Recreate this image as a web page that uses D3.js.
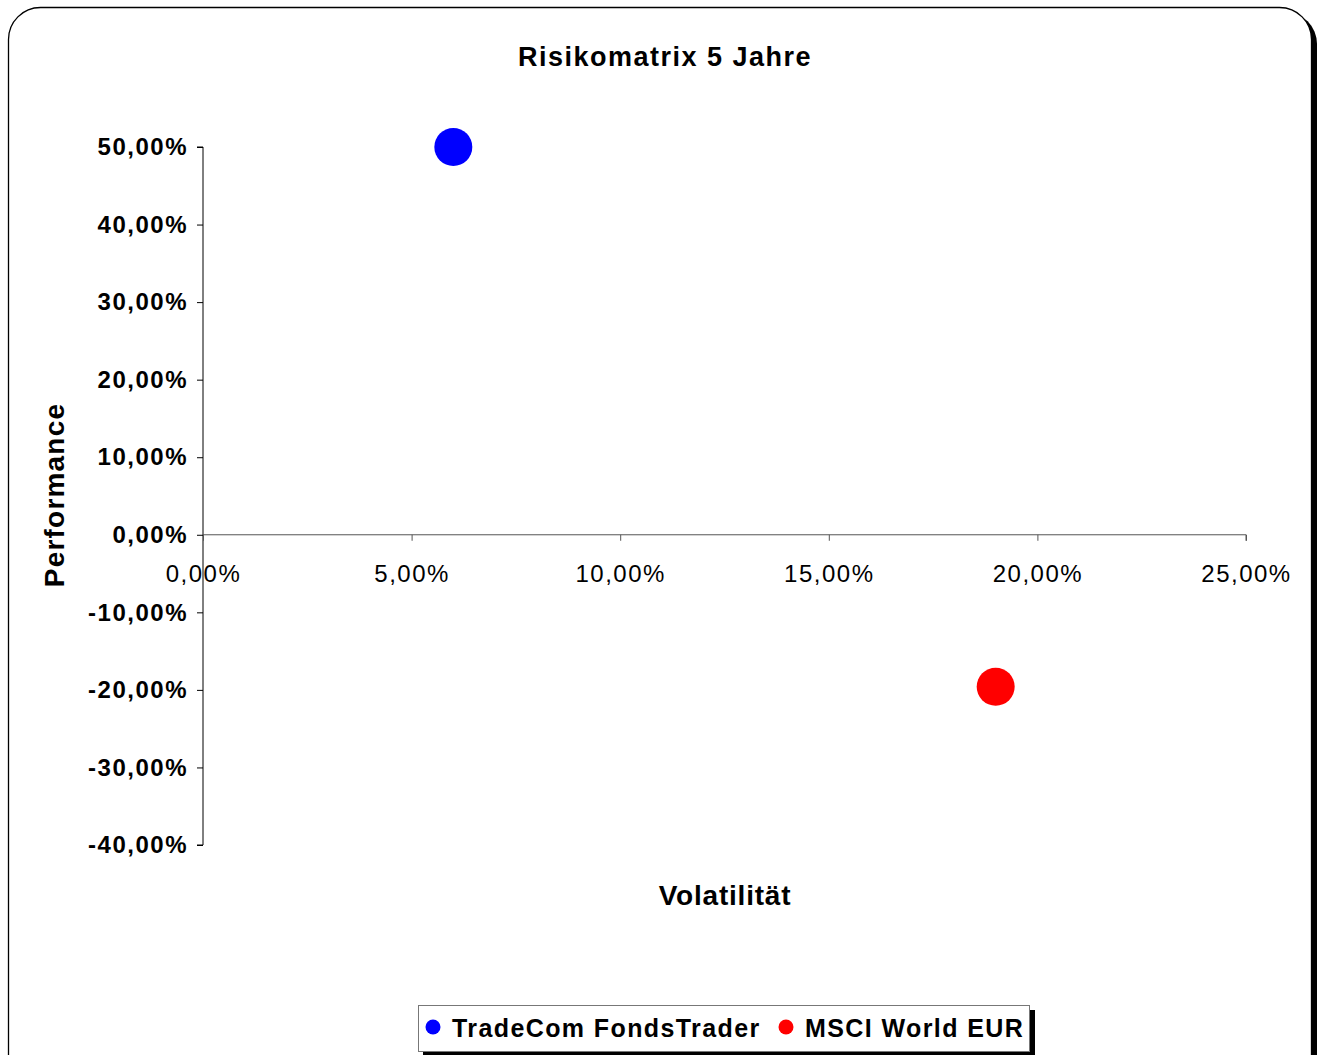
<!DOCTYPE html>
<html>
<head>
<meta charset="utf-8">
<style>
  body { margin: 0; background: #fff; font-family: 'Liberation Sans', Arial, sans-serif; }
  svg { display: block; }
</style>
</head>
<body>
<svg width="1325" height="1055"></svg>
<script src="https://d3js.org/d3.v7.min.js"></script>
<script>
// data
const seriesNames = ["TradeCom FondsTrader", "MSCI World EUR"];
const seriesColors = ["#0000ff", "#ff0000"];
const volatility = [6.0, 19.0];      // x, in %
const performance = [50.0, -19.6];   // y, in %
const xTicks = [0, 5, 10, 15, 20, 25];
const yTicks = [50, 40, 30, 20, 10, 0, -10, -20, -30, -40];

const svg = d3.select("svg");
const fmt = v => d3.format(".2f")(v).replace(".", ",").replace("\u2212", "-") + "%";

// outer frame, shadow first then white box on top
svg.append("rect")
  .attr("x", 14).attr("y", 12).attr("width", 1303).attr("height", 1090)
  .attr("rx", 32).attr("ry", 32)
  .attr("fill", "#000");
svg.append("rect")
  .attr("x", 8.5).attr("y", 7.5).attr("width", 1303).attr("height", 1090)
  .attr("rx", 32).attr("ry", 32)
  .attr("fill", "#fff").attr("stroke", "#000").attr("stroke-width", 1.3);

const x = d3.scaleLinear().domain([0, 25]).range([203, 1246]);
const y = d3.scaleLinear().domain([-40, 50]).range([845, 147]);

// title
svg.append("text")
  .attr("x", 665).attr("y", 66)
  .attr("text-anchor", "middle")
  .style("font-size", "27px").style("font-weight", "bold")
  .style("letter-spacing", "1.5px")
  .text("Risikomatrix 5 Jahre");

// y axis
const yAxis = svg.append("g")
  .attr("transform", `translate(${x(0)},0)`)
  .call(d3.axisLeft(y).tickValues(yTicks).tickSize(6).tickPadding(9).tickFormat(fmt));
yAxis.select(".domain").attr("stroke", "#000").attr("d", `M-6,${y(50)}H0V${y(-40)}H-6`);
yAxis.selectAll("text")
  .style("font-size", "24px").style("font-weight", "bold")
  .style("letter-spacing", "1.5px")
  .style("font-family", "'Liberation Sans', Arial, sans-serif").attr("fill", "#000");

// x axis
const xAxis = svg.append("g")
  .attr("transform", `translate(0,${y(0)})`)
  .call(d3.axisBottom(x).tickValues(xTicks).tickSize(6).tickPadding(24).tickFormat(fmt));
xAxis.select(".domain").attr("stroke", "#555").attr("d", `M${x(0)},0H${x(25)}V6`);
xAxis.selectAll(".tick line").attr("stroke", "#555");
xAxis.selectAll("text")
  .style("font-size", "24px")
  .style("letter-spacing", "1.5px")
  .style("font-family", "'Liberation Sans', Arial, sans-serif").attr("fill", "#000");

// axis titles
svg.append("text")
  .attr("transform", "translate(64,495) rotate(-90)")
  .attr("text-anchor", "middle")
  .style("font-size", "28px").style("font-weight", "bold")
  .style("letter-spacing", "1.2px")
  .text("Performance");
svg.append("text")
  .attr("x", 725).attr("y", 905)
  .attr("text-anchor", "middle")
  .style("font-size", "28px").style("font-weight", "bold")
  .style("letter-spacing", "0.8px")
  .text("Volatilität");

// points
svg.append("g").selectAll("circle")
  .data(seriesNames)
  .join("circle")
  .attr("cx", (d, i) => x(volatility[i]))
  .attr("cy", (d, i) => y(performance[i]))
  .attr("r", 19)
  .attr("fill", (d, i) => seriesColors[i]);

// legend
const lg = svg.append("g");
lg.append("rect").attr("x", 423).attr("y", 1010).attr("width", 612).attr("height", 48).attr("fill", "#000");
lg.append("rect").attr("x", 418.5).attr("y", 1005.5).attr("width", 611).attr("height", 46)
  .attr("fill", "#fff").attr("stroke", "#777").attr("stroke-width", 1);
const legendX = [433, 786];
seriesNames.forEach((name, i) => {
  lg.append("circle").attr("cx", legendX[i]).attr("cy", 1027).attr("r", 7.5).attr("fill", seriesColors[i]);
  lg.append("text")
    .attr("x", legendX[i] + 19).attr("y", 1037)
    .style("font-size", "25px").style("font-weight", "bold")
    .style("letter-spacing", "1.4px")
    .text(name);
});
</script>
</body>
</html>
